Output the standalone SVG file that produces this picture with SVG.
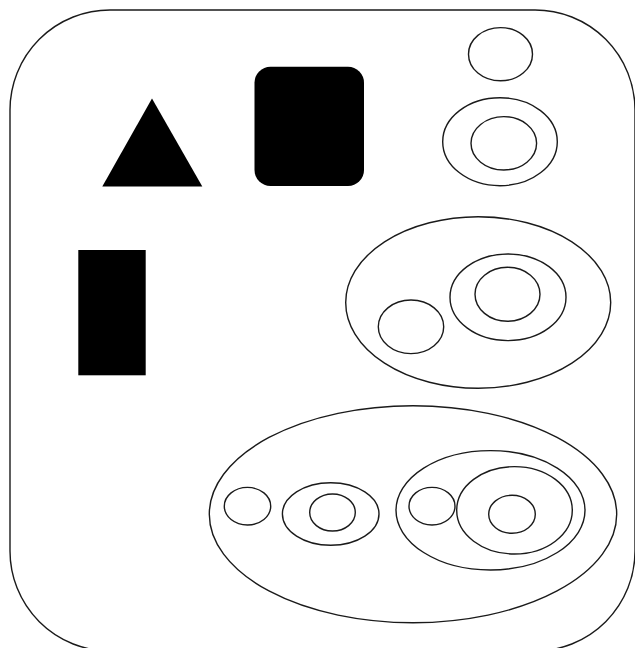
<svg xmlns="http://www.w3.org/2000/svg" width="635" height="648" viewBox="0 0 635 648">
<style>
.o{fill:none;stroke:#1a1a1a;stroke-width:1.4}
.s{fill:#000;stroke:none}
</style>
<rect width="635" height="648" fill="#fff"/>
<rect id="frame" class="o" x="10" y="10" width="625" height="641" rx="100" ry="100"/>
<polygon id="triangle" class="s" points="152,98.5 102.3,186.5 202.3,186.5"/>
<rect id="roundsquare" class="s" x="254.5" y="66.8" width="109.5" height="119.2" rx="16" ry="16"/>
<rect id="bar" class="s" x="78.3" y="250" width="67.4" height="125.3"/>
<g id="top-pair">
<ellipse class="o" cx="500.5" cy="54.2" rx="32" ry="26.6"/>
<ellipse class="o" cx="500" cy="141.7" rx="57.3" ry="44"/>
<ellipse class="o" cx="503.8" cy="143.3" rx="32.8" ry="26.7"/>
</g>
<g id="middle-group">
<ellipse class="o" cx="478.2" cy="302.5" rx="132.5" ry="85.8"/>
<ellipse class="o" cx="411" cy="326.8" rx="32.7" ry="26.8"/>
<ellipse class="o" cx="508" cy="297.3" rx="58" ry="43.3"/>
<ellipse class="o" cx="507.5" cy="294.3" rx="32.5" ry="27"/>
</g>
<g id="bottom-group">
<ellipse class="o" cx="413" cy="514.2" rx="203.7" ry="108.5"/>
<ellipse class="o" cx="247.5" cy="506.2" rx="23.2" ry="18.8"/>
<ellipse class="o" cx="330.7" cy="514" rx="48.3" ry="31.3"/>
<ellipse class="o" cx="332.5" cy="512.5" rx="22.8" ry="18.5"/>
<ellipse class="o" cx="490.5" cy="510.3" rx="94.5" ry="59.7"/>
<ellipse class="o" cx="432" cy="506.2" rx="23" ry="18.8"/>
<ellipse class="o" cx="514.5" cy="510.3" rx="57.8" ry="43.7"/>
<ellipse class="o" cx="512" cy="514.3" rx="23.3" ry="19"/>
</g>
</svg>
